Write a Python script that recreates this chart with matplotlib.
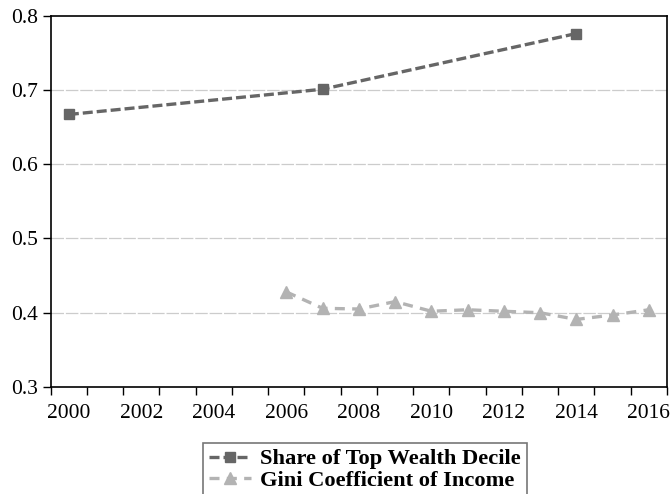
import numpy as np
import matplotlib.pyplot as plt

wealth_years = [2000, 2007, 2014]
wealth_share = [0.667, 0.701, 0.776]

gini_years = [2006, 2007, 2008, 2009, 2010, 2011, 2012, 2013, 2014, 2015, 2016]
gini_income = [0.428, 0.406, 0.405, 0.415, 0.402, 0.404, 0.402, 0.400, 0.391, 0.397, 0.404]

year_labels = list(range(2000, 2017, 2))

plt.rcParams['font.family'] = ['Liberation Serif', 'DejaVu Serif']

fig = plt.figure(figsize=(6.7, 4.94), dpi=100)
ax = fig.add_axes([0.0757, 0.2166, 0.9198, 0.7516])

ax.plot(wealth_years, wealth_share, linestyle=(0, (3, 1.2)), color='#666666',
        lw=2.4, marker='s', ms=7, label='Share of Top Wealth Decile')
ax.plot(gini_years, gini_income, linestyle=(0, (3, 2.2)), color='#b3b3b3',
        lw=2.4, marker='^', ms=8, label='Gini Coefficient of Income')

ax.set_xlim(1999.5, 2016.5)
ax.set_ylim(0.3, 0.8)
ax.set_yticks(np.arange(0.3, 0.81, 0.1))
ax.set_yticklabels(['0.3', '0.4', '0.5', '0.6', '0.7', '0.8'])
ax.set_xticks(year_labels)
ax.set_xticklabels([str(y) for y in year_labels])
ax.set_xticks(np.arange(1999.5, 2017, 1), minor=True)
ax.tick_params(axis='x', which='major', length=0, pad=12, labelsize=15.5)
ax.tick_params(axis='x', which='minor', length=6, width=1, direction='out')
ax.tick_params(axis='y', length=6, width=1, direction='out', labelsize=15.5, pad=3)

for v in [0.4, 0.5, 0.6, 0.7]:
    ax.axhline(v, color='#cccccc', lw=0.9, linestyle=(0, (10, 1.5)), zorder=0)

for s in ax.spines.values():
    s.set_linewidth(1.2)

leg = fig.legend(loc='upper left', bbox_to_anchor=(0.303, 0.103),
                 borderaxespad=0, frameon=True, fancybox=False,
                 edgecolor='#555555', prop={'weight': 'bold', 'size': 16.2},
                 handlelength=1.9, handletextpad=0.4, borderpad=0.25,
                 labelspacing=0.02)
leg.get_frame().set_linewidth(1.2)

fig.savefig('out.png', dpi=100)
